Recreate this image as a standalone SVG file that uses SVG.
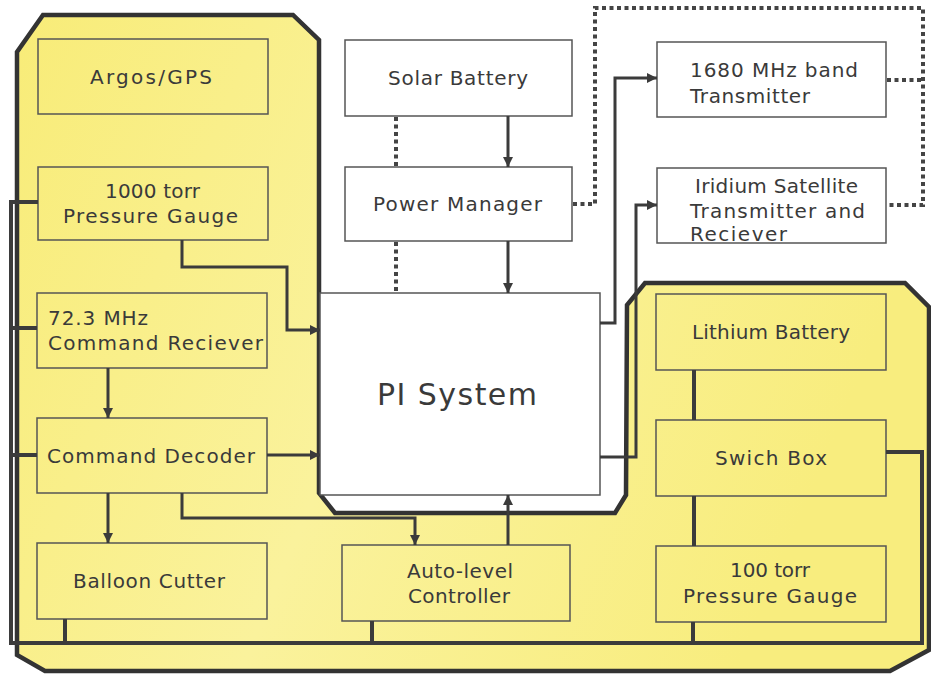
<svg xmlns="http://www.w3.org/2000/svg" width="931" height="674" viewBox="0 0 931 674">
<defs>
<marker id="arr" markerUnits="userSpaceOnUse" markerWidth="10" markerHeight="10" refX="10" refY="5" orient="auto" viewBox="0 0 10 10">
<path d="M0,0 L10,5 L0,10 z" fill="#3b3b3b"/>
</marker>
<linearGradient id="yel" x1="0" y1="0" x2="1" y2="0.3">
<stop offset="0" stop-color="#f8ec78"/>
<stop offset="0.5" stop-color="#faf29c"/>
<stop offset="1" stop-color="#f8ed7e"/>
</linearGradient>
</defs>
<style>
.bx{stroke:#555;stroke-width:1.5}
.yb{fill:none}
.wb{fill:#fff}
.t{font-family:"DejaVu Sans","Liberation Sans",sans-serif;font-size:20px;fill:#3a3a3a}
.c{fill:none;stroke:#3b3b3b;stroke-width:3}
.bus{fill:none;stroke:#3b3b3b;stroke-width:4}
.dot{fill:none;stroke:#444;stroke-width:4;stroke-dasharray:4 3.5}
</style>
<rect width="931" height="674" fill="#fff"/>
<g id="region">
<path d="M43,15 L293,15 L319,40 L319,493 L335,513 L615,513 L626,495 L627,305 L645,283 L905,283 L929,307 L929,650 L890,671 L45,671 L17,655 L17,52 Z" fill="url(#yel)" stroke="#333" stroke-width="4.5" stroke-linejoin="miter"/>
</g>
<g id="n-pi"><rect class="bx wb" x="320" y="293" width="280" height="202"/><text class="t" x="377" y="405" textLength="160" style="font-size:30px">PI System</text></g>
<g id="n-argos"><rect class="bx yb" x="38" y="39" width="230" height="75"/><text class="t" x="90" y="84" textLength="122">Argos/GPS</text></g>
<g id="n-1000"><rect class="bx yb" x="38" y="167" width="230" height="73"/><text class="t" x="105" y="198" textLength="95">1000 torr</text><text class="t" x="63" y="223" textLength="175">Pressure Gauge</text></g>
<g id="n-72"><rect class="bx yb" x="37" y="293" width="230" height="75"/><text class="t" x="48" y="325" textLength="100">72.3 MHz</text><text class="t" x="48" y="350" textLength="215">Command Reciever</text></g>
<g id="n-decoder"><rect class="bx yb" x="37" y="418" width="230" height="75"/><text class="t" x="47" y="463" textLength="208">Command Decoder</text></g>
<g id="n-cutter"><rect class="bx yb" x="37" y="543" width="230" height="76"/><text class="t" x="73" y="588" textLength="152">Balloon Cutter</text></g>
<g id="n-auto"><rect class="bx yb" x="342" y="545" width="228" height="76"/><text class="t" x="407" y="578" textLength="106">Auto-level</text><text class="t" x="408" y="603" textLength="102">Controller</text></g>
<g id="n-lithium"><rect class="bx yb" x="656" y="294" width="230" height="76"/><text class="t" x="692" y="339" textLength="158">Lithium Battery</text></g>
<g id="n-switch"><rect class="bx yb" x="656" y="420" width="230" height="76"/><text class="t" x="715" y="465" textLength="112">Swich Box</text></g>
<g id="n-100"><rect class="bx yb" x="656" y="546" width="230" height="76"/><text class="t" x="730" y="577" textLength="80">100 torr</text><text class="t" x="683" y="603" textLength="174">Pressure Gauge</text></g>
<g id="n-solar"><rect class="bx wb" x="345" y="40" width="227" height="76"/><text class="t" x="388" y="85" textLength="140">Solar Battery</text></g>
<g id="n-power"><rect class="bx wb" x="345" y="167" width="227" height="74"/><text class="t" x="373" y="211" textLength="169">Power Manager</text></g>
<g id="n-1680"><rect class="bx wb" x="657" y="42" width="229" height="75"/><text class="t" x="690" y="77" textLength="168">1680 MHz band</text><text class="t" x="690" y="103" textLength="120">Transmitter</text></g>
<g id="n-iridium"><rect class="bx wb" x="657" y="168" width="229" height="75"/><text class="t" x="695" y="193" textLength="163">Iridium Satellite</text><text class="t" x="690" y="218" textLength="175">Transmitter and</text><text class="t" x="690" y="241" textLength="97">Reciever</text></g>
<g id="connectors">
<path class="c" d="M508,116 V167" marker-end="url(#arr)"/>
<path class="c" d="M508,241 V293" marker-end="url(#arr)"/>
<path class="c" d="M182,240 V267 H287 V330 H320" marker-end="url(#arr)"/>
<path class="c" d="M267,455 H320" marker-end="url(#arr)"/>
<path class="c" d="M108,368 V418" marker-end="url(#arr)"/>
<path class="c" d="M108,493 V543" marker-end="url(#arr)"/>
<path class="c" d="M182,493 V518 H415 V545" marker-end="url(#arr)"/>
<path class="c" d="M508,545 V495" marker-end="url(#arr)"/>
<path class="c" d="M600,323 H615 V78 H657" marker-end="url(#arr)"/>
<path class="c" d="M600,457 H636 V205 H657" marker-end="url(#arr)"/>
<path class="bus" d="M38,202 H11 V643 H922 V452 H886"/>
<path class="bus" d="M11,328 H37 M11,455 H37 M65,619 V643 M372,621 V643 M693,622 V643 M694,370 V420 M694,496 V546"/>
<path class="dot" d="M396,117 V167 M396,242 V293"/>
<path class="dot" d="M573,204 H595 V8 H923 V205 H887 M887,80 H923"/>
</g>
</svg>
